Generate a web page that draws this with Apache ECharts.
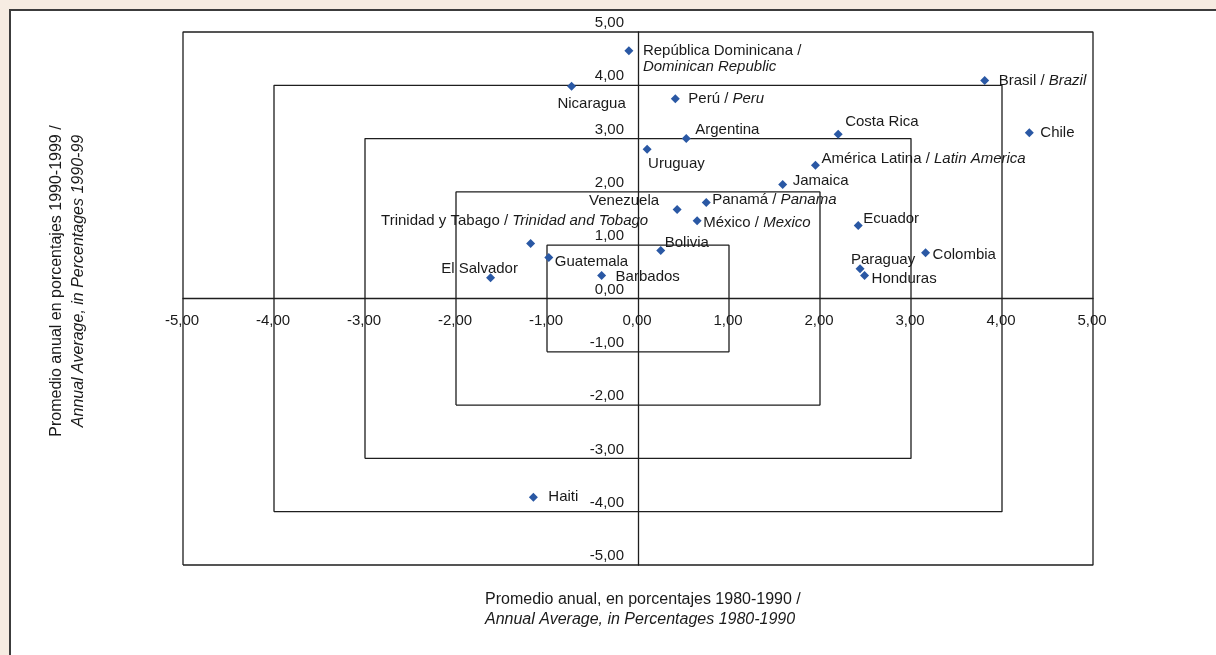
<!DOCTYPE html>
<html>
<head>
<meta charset="utf-8">
<script src="https://cdn.jsdelivr.net/npm/echarts@6/dist/echarts.min.js"></script>
<style>
html,body{margin:0;padding:0;background:#f6ece2;}
#c{width:1216px;height:655px;}
</style>
</head>
<body>
<div id="c"></div>
<script>
// ---- data ----
var namesEs = ['República Dominicana /','Nicaragua','Perú /','Brasil /','Chile','Costa Rica','Argentina','Uruguay',
  'América Latina /','Jamaica','Venezuela','Panamá /','México /','Trinidad y Tabago /','Bolivia','Guatemala',
  'El Salvador','Barbados','Ecuador','Colombia','Paraguay','Honduras','Haiti'];
var namesEn = ['Dominican Republic','','Peru','Brazil','','','','',
  'Latin America','','','Panama','Mexico','Trinidad and Tobago','','',
  '','','','','','',''];
var xValues = [-0.10,-0.73,0.41,3.81,4.30,2.20,0.53,0.10,
  1.95,1.59,0.43,0.75,0.65,-1.18,0.25,-0.98,
  -1.62,-0.40,2.42,3.16,2.44,2.49,-1.15];
var yValues = [4.65,3.98,3.75,4.09,3.11,3.08,3.00,2.80,
  2.50,2.14,1.67,1.80,1.46,1.03,0.90,0.77,
  0.39,0.43,1.37,0.86,0.56,0.43,-3.73];
var boxSizes = [1,2,3,4,5];
var axisTicks = [-5,-4,-3,-2,-1,0,1,2,3,4,5];
var xTitle = ['Promedio anual, en porcentajes 1980-1990 /','Annual Average, in Percentages 1980-1990'];
var yTitle = ['Promedio anual en porcentajes 1990-1999 /','Annual Average, in Percentages 1990-99'];

// ---- label layout (style only): [align, dx, dy] relative to marker centre ----
var labelLayout = {
  'República Dominicana /':['left',14,8],
  'Nicaragua':['center',20,17],
  'Perú /':['left',13,0],
  'Brasil /':['left',14,0],
  'Chile':['left',11,0],
  'Costa Rica':['left',7,-12],
  'Argentina':['left',9,-9],
  'Uruguay':['left',1,15],
  'América Latina /':['left',6,-6],
  'Jamaica':['left',10,-4],
  'Venezuela':['right',-18,-9],
  'Panamá /':['left',6,-3],
  'México /':['left',6,2],
  'Trinidad y Tabago /':['center',-16,-23],
  'Bolivia':['left',4,-8],
  'Guatemala':['left',6,4],
  'El Salvador':['center',-11,-9],
  'Barbados':['left',14,1],
  'Ecuador':['left',5,-7],
  'Colombia':['left',7,2],
  'Paraguay':['center',23,-9],
  'Honduras':['left',7,3],
  'Haiti':['left',15,0]
};

var FONT = '"Liberation Sans", Arial, Helvetica, sans-serif';
var TXT = '#1a1a1a';
var SYM = 9;
function fmt(v){ return v.toFixed(2).replace('.', ','); }

var points = namesEs.map(function(n,i){
  var lay = labelLayout[n];
  var txt;
  if (n === 'República Dominicana /') txt = n + '\n{i|' + namesEn[i] + '}';
  else txt = n + (namesEn[i] ? ' {i|' + namesEn[i] + '}' : '');
  return {
    name: n,
    value: [xValues[i], yValues[i]],
    label: {
      show: true, position: [SYM/2 + lay[1], SYM/2 + lay[2]],
      align: lay[0], verticalAlign: 'middle', formatter: txt
    }
  };
});

var boxSeries = boxSizes.map(function(k){
  return {
    type: 'line', silent: true, symbol: 'none', clip: false, z: 1,
    lineStyle: {color: '#1e1e1e', width: 1.3},
    data: [[-k,-k],[k,-k],[k,k],[-k,k],[-k,-k]]
  };
});

// tick labels placed at the crossing axes (x at y=0, y at x=0)
var TS = 2;
var xTickData = axisTicks.map(function(t){
  return {value: [t, 0], label: {show: true, formatter: fmt(t), position: [TS/2 - 1, TS/2 + 22], align: 'center', verticalAlign: 'middle'}};
});
var yTickData = axisTicks.map(function(t){
  return {value: [0, t], label: {show: true, formatter: fmt(t), position: [TS/2 - 14, TS/2 - 9], align: 'right', verticalAlign: 'middle'}};
});
var tickSeries = {
  type: 'scatter', silent: true, symbolSize: TS, clip: false, z: 4,
  itemStyle: {color: 'rgba(0,0,0,0)', opacity: 1},
  label: {fontSize: 15, color: TXT, fontFamily: FONT, opacity: 1},
  data: xTickData.concat(yTickData)
};

var chart = echarts.init(document.getElementById('c'));
chart.setOption({
  backgroundColor: '#f6ece2',
  animation: false,
  textStyle: {fontFamily: FONT},
  grid: {left: 183, right: 123, top: 32, bottom: 90},
  graphic: [
    {type: 'rect', z: -10, shape: {x: 10, y: 10, width: 1230, height: 680},
     style: {fill: '#ffffff', stroke: '#3c3c3c', lineWidth: 2}},
    {type: 'text', left: 485, top: 592, style: {text: xTitle[0], font: '16px ' + FONT, fill: TXT}},
    {type: 'text', left: 485, top: 612, style: {text: xTitle[1], font: 'italic 16px ' + FONT, fill: TXT}},
    {type: 'text', x: 57, y: 281, rotation: Math.PI/2,
     style: {text: yTitle[0], font: '16px ' + FONT, fill: TXT, align: 'center', verticalAlign: 'middle'}},
    {type: 'text', x: 79, y: 281, rotation: Math.PI/2,
     style: {text: yTitle[1], font: 'italic 16px ' + FONT, fill: TXT, align: 'center', verticalAlign: 'middle'}}
  ],
  xAxis: {
    type: 'value', min: axisTicks[0], max: axisTicks[axisTicks.length-1], interval: 1,
    splitLine: {show: false}, axisTick: {show: false}, axisLabel: {show: false},
    axisLine: {onZero: true, lineStyle: {color: '#1e1e1e', width: 1.3}}
  },
  yAxis: {
    type: 'value', min: axisTicks[0], max: axisTicks[axisTicks.length-1], interval: 1,
    splitLine: {show: false}, axisTick: {show: false}, axisLabel: {show: false},
    axisLine: {onZero: true, lineStyle: {color: '#1e1e1e', width: 1.3}}
  },
  series: boxSeries.concat([tickSeries, {
    type: 'scatter', symbol: 'diamond', symbolSize: SYM, z: 5, clip: false,
    itemStyle: {color: '#2a58a4', opacity: 1},
    label: {
      fontSize: 15, color: TXT, fontFamily: FONT, lineHeight: 16, opacity: 1,
      rich: {i: {fontStyle: 'italic', fontSize: 15, color: TXT, fontFamily: FONT, lineHeight: 16}}
    },
    data: points
  }])
});
</script>
</body>
</html>
